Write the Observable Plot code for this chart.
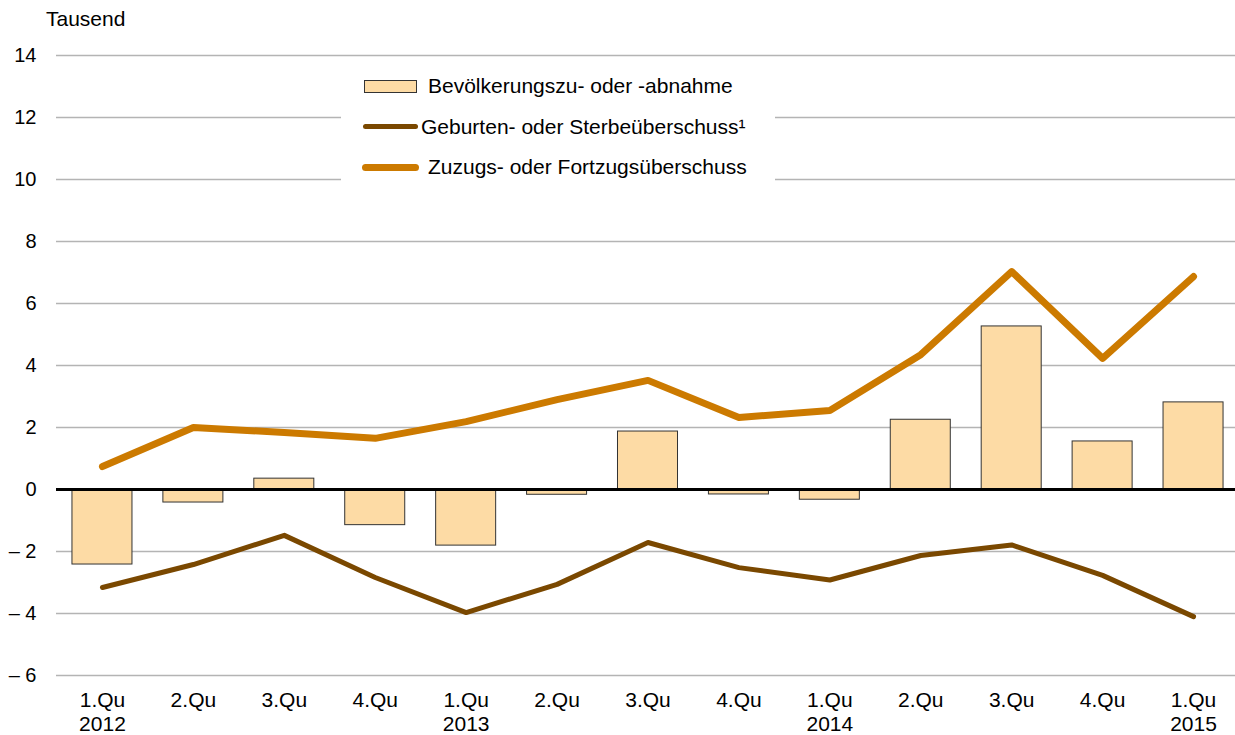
<!DOCTYPE html>
<html>
<head>
<meta charset="utf-8">
<script src="https://cdn.jsdelivr.net/npm/d3@7"></script>
<script src="https://cdn.jsdelivr.net/npm/@observablehq/plot@0.6"></script>
<style>
  html, body { margin: 0; padding: 0; background: #fff; overflow: hidden; }
  #wrap { position: relative; width: 1235px; height: 735px; font-family: "Liberation Sans", Arial, sans-serif; }
  #wrap svg { position: absolute; left: 0; top: 0; }
  .unit { position: absolute; left: 46px; top: 7px; font-size: 21px; color: #000; }
  #legend { position: absolute; left: 341px; top: 64px; width: 434px; height: 124px; background: #fff; }
  .item { position: absolute; font-size: 21px; color: #000; white-space: nowrap; line-height: 24px; }
  .sw { position: absolute; box-sizing: border-box; }
</style>
</head>
<body>
<div id="wrap">
  <div class="unit">Tausend</div>
</div>
<script>
// Data
const periods = ["2012Q1","2012Q2","2012Q3","2012Q4","2013Q1","2013Q2","2013Q3","2013Q4","2014Q1","2014Q2","2014Q3","2014Q4","2015Q1"];
const tickLabels = ["1.Qu\n2012","2.Qu","3.Qu","4.Qu","1.Qu\n2013","2.Qu","3.Qu","4.Qu","1.Qu\n2014","2.Qu","3.Qu","4.Qu","1.Qu\n2015"];
const bevoelkerung = [-2.42, -0.42, 0.35, -1.15, -1.81, -0.17, 1.87, -0.16, -0.33, 2.25, 5.26, 1.55, 2.81];
const geburten = [-3.16, -2.42, -1.48, -2.84, -3.97, -3.06, -1.71, -2.52, -2.92, -2.13, -1.79, -2.77, -4.10];
const zuzug = [0.74, 2.00, 1.84, 1.65, 2.19, 2.90, 3.52, 2.32, 2.55, 4.35, 7.03, 4.23, 6.87];
const yTicks = [-6, -4, -2, 0, 2, 4, 6, 8, 10, 12, 14];
const legendLabels = ["Bevölkerungszu- oder -abnahme", "Geburten- oder Sterbeüberschuss¹", "Zuzugs- oder Fortzugsüberschuss"];

const colBar = "#FDDBA5", colBarStroke = "#333333", colGeb = "#7A4800", colZu = "#CC7A00", colGrid = "#b4b4b4";

const rows = periods.map((p, i) => ({p, bev: bevoelkerung[i], geb: geburten[i], zu: zuzug[i]}));
const labelOf = new Map(periods.map((p, i) => [p, tickLabels[i]]));

const chart = Plot.plot({
  width: 1235,
  height: 735,
  marginTop: 55,
  marginBottom: 60,
  marginLeft: 56,
  marginRight: 0,
  style: {fontFamily: "Liberation Sans, Arial, sans-serif", fontSize: "20px", color: "#000", background: "transparent"},
  x: {domain: periods, range: [56.5, 1238.5], paddingInner: 0.34, paddingOuter: 0.17, round: false, label: null},
  y: {domain: [-6, 14], label: null},
  marks: [
    Plot.ruleY(yTicks.filter(d => d !== 0), {stroke: colGrid, strokeWidth: 1.3}),
    Plot.barY(rows, {x: "p", y: "bev", fill: colBar, stroke: colBarStroke, strokeWidth: 1}),
    Plot.ruleY([0], {stroke: "#000", strokeWidth: 3}),
    Plot.lineY(rows, {x: "p", y: "geb", stroke: colGeb, strokeWidth: 5, strokeLinecap: "round", strokeLinejoin: "round"}),
    Plot.lineY(rows, {x: "p", y: "zu", stroke: colZu, strokeWidth: 7, strokeLinecap: "round", strokeLinejoin: "round"}),
    Plot.axisY({ticks: yTicks, tickSize: 0, tickPadding: 20, tickFormat: d => d < 0 ? "– " + Math.abs(d) : String(d), fontSize: 20}),
    Plot.axisX({tickSize: 0, tickPadding: 14, tickFormat: d => labelOf.get(d), fontSize: 21, lineHeight: 1.15})
  ]
});
const wrap = document.getElementById("wrap");
wrap.insertBefore(chart, wrap.firstChild);

// Legend overlay (covers gridlines like in the reference)
const legend = document.createElement("div");
legend.id = "legend";
const L = 341, T = 64;
const items = [
  {sw: {left: 364 - L, top: 80 - T, width: 53, height: 13, background: colBar, border: "1px solid " + colBarStroke}, tx: 428 - L, ty: 86 - T},
  {sw: {left: 363 - L, top: 124 - T, width: 55, height: 5, background: colGeb, borderRadius: "3px"}, tx: 421 - L, ty: 127 - T},
  {sw: {left: 362 - L, top: 163.5 - T, width: 57, height: 7, background: colZu, borderRadius: "4px"}, tx: 428 - L, ty: 167 - T}
];
items.forEach((it, i) => {
  const s = document.createElement("div");
  s.className = "sw";
  Object.entries(it.sw).forEach(([k, v]) => s.style[k] = typeof v === "number" ? v + "px" : v);
  legend.appendChild(s);
  const t = document.createElement("div");
  t.className = "item";
  t.style.left = it.tx + "px";
  t.style.top = (it.ty - 12) + "px";
  t.textContent = legendLabels[i];
  legend.appendChild(t);
});
wrap.appendChild(legend);
</script>
</body>
</html>
